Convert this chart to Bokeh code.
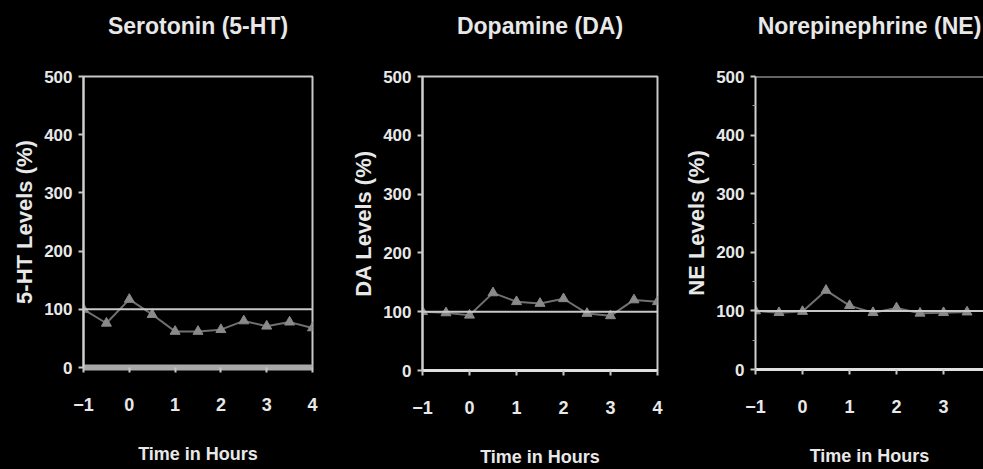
from bokeh.plotting import figure
from bokeh.layouts import row, column
from bokeh.models import Span, FixedTicker, Range1d
from bokeh.core.properties import value
from bokeh.embed import file_html
from bokeh.resources import INLINE

# ---- data ----
hours = [-1, -0.5, 0, 0.5, 1, 1.5, 2, 2.5, 3, 3.5, 4]
serotonin = [100, 76, 117, 91, 62, 62, 65, 80, 71, 78, 68]
dopamine = [100, 98, 94, 132, 117, 114, 122, 97, 93, 120, 117]
ne_hours = [-1, -0.5, 0, 0.5, 1, 1.5, 2, 2.5, 3, 3.5]
norepinephrine = [100, 97, 99, 135, 109, 97, 105, 96, 97, 98]
titles = ["Serotonin (5-HT)", "Dopamine (DA)", "Norepinephrine (NE)"]
ylabels = ["5-HT Levels (%)", "DA Levels (%)", "NE Levels (%)"]
xlabel = "Time in Hours"
x_ticks = [-1, 0, 1, 2, 3, 4]
y_ticks = [0, 100, 200, 300, 400, 500]
y_minor_ticks = [50, 150, 250, 350, 450]
baseline = 100

FONT = "Liberation Sans"
TXT = "#e8e8e8"
FRAME = "#c8c8c8"
TITLE_H = 50


def title_strip(title, width, bl, br, x_end):
    t = figure(width=width, height=TITLE_H, output_backend="svg", toolbar_location=None,
               x_range=Range1d(-1, x_end), y_range=Range1d(0, 1),
               x_axis_location=None, y_axis_location=None,
               min_border_left=bl, min_border_right=br, min_border_top=0,
               min_border_bottom=0)
    t.background_fill_color = "black"
    t.border_fill_color = "black"
    t.outline_line_color = None
    t.grid.visible = False
    t.text(x=[(-1 + x_end) / 2], y=[0.5], text=[title], text_align="center",
           text_baseline="middle", text_font=value(FONT), text_font_size="23px",
           text_font_style="bold", text_color=TXT)
    return t


def panel(xs, ys, ylabel, width, bl, br, bb, x_end, band, outline=True, minor=False):
    p = figure(width=width, height=469 - TITLE_H, output_backend="svg",
               toolbar_location=None,
               x_range=Range1d(-1, x_end), y_range=Range1d(0, 500),
               min_border_left=bl, min_border_right=br, min_border_top=76 - TITLE_H,
               min_border_bottom=bb)
    p.background_fill_color = "black"
    p.border_fill_color = "black"
    p.grid.visible = False
    if outline:
        p.outline_line_color = FRAME
        p.outline_line_width = 2
    else:
        p.outline_line_color = None
        p.add_layout(Span(location=500, dimension="width", line_color=FRAME, line_width=2))

    xa = p.xaxis[0]
    xa.ticker = FixedTicker(ticks=x_ticks)
    xa.axis_label = xlabel
    xa.axis_label_text_font = FONT
    xa.axis_label_text_font_size = "18px"
    xa.axis_label_text_font_style = "bold"
    xa.axis_label_text_color = TXT
    xa.axis_label_standoff = 30
    xa.major_label_text_font = FONT
    xa.major_label_text_font_size = "18px"
    xa.major_label_text_font_style = "bold"
    xa.major_label_text_color = TXT
    xa.major_label_standoff = 25
    xa.major_tick_out = 5
    xa.major_tick_in = 0
    xa.minor_tick_out = 0
    xa.minor_tick_in = 0
    xa.major_tick_line_color = FRAME
    xa.major_tick_line_width = 2
    if band:
        xa.axis_line_color = "#a9a9a9"
        xa.axis_line_width = 6
    else:
        xa.axis_line_color = "#e0e0e0"
        xa.axis_line_width = 3

    ya = p.yaxis[0]
    if minor:
        ya.ticker = FixedTicker(ticks=y_ticks, minor_ticks=y_minor_ticks)
        ya.minor_tick_out = 3
        ya.minor_tick_line_color = "#9a9a9a"
    else:
        ya.ticker = FixedTicker(ticks=y_ticks)
        ya.minor_tick_out = 0
    ya.minor_tick_in = 0
    ya.axis_label = ylabel
    ya.axis_label_text_font = FONT
    ya.axis_label_text_font_size = "22px"
    ya.axis_label_text_font_style = "bold"
    ya.axis_label_text_color = TXT
    ya.axis_label_standoff = 4
    ya.major_label_text_font = FONT
    ya.major_label_text_font_size = "17px"
    ya.major_label_text_font_style = "bold"
    ya.major_label_text_color = TXT
    ya.major_label_standoff = 6
    ya.major_tick_out = 5
    ya.major_tick_in = 0
    ya.major_tick_line_color = FRAME
    ya.major_tick_line_width = 2
    ya.axis_line_color = "#d0d0d0"
    ya.axis_line_width = 2

    p.add_layout(Span(location=baseline, dimension="width", line_color=FRAME, line_width=2))
    p.line(xs, ys, line_color="#707070", line_width=2)
    p.scatter(xs, ys, marker="triangle", size=10, fill_color="#8a8a8a",
              line_color="#8a8a8a")
    return p


specs = [
    # (xs, ys, width, left border, right border, bottom border, x end, band, outline, minor)
    (hours, serotonin, 335, 83, 23, 102, 4, True, True, False),
    (hours, dopamine, 340, 87, 18, 95, 4, False, True, False),
    (ne_hours, norepinephrine, 308, 80, 0, 100, 3.85, False, False, True),
]

cols = []
for i, (xs, ys, w, bl, br, bb, xe, band, outl, mnr) in enumerate(specs):
    t = title_strip(titles[i], w, bl, br, xe)
    p = panel(xs, ys, ylabels[i], w, bl, br, bb, xe, band, outline=outl, minor=mnr)
    cols.append(column(t, p, spacing=0))

layout = row(*cols, spacing=0)
layout.styles = {"background-color": "black"}
open("out.html", "w").write(file_html(layout, INLINE))
